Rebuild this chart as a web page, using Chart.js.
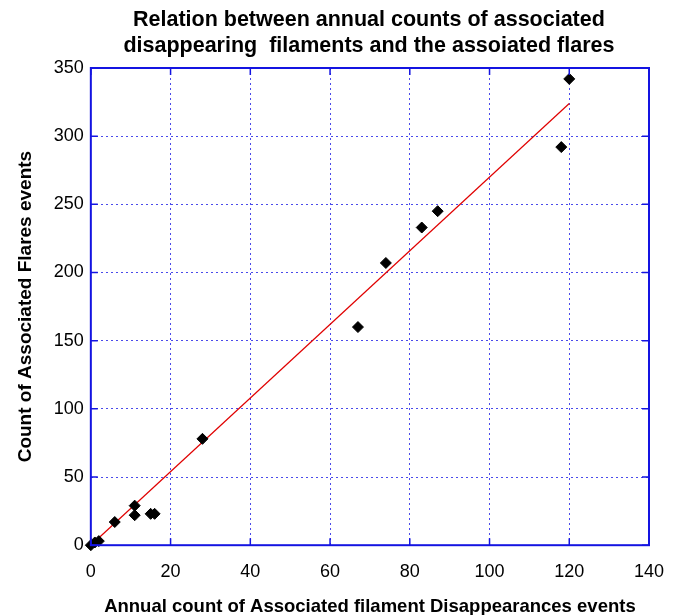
<!DOCTYPE html>
<html>
<head>
<meta charset="utf-8">
<script src="https://cdn.jsdelivr.net/npm/chart.js@4.4.1/dist/chart.umd.min.js"></script>
<style>
  body { margin: 0; background: #fff; }
</style>
</head>
<body>
<canvas id="chart" width="680" height="615"></canvas>
<script>
// annual counts (x = filament disappearances, y = flares)
const filamentCounts = [0, 1, 2, 6, 11, 11, 15, 16, 28, 67, 74, 83, 87, 118, 120];
const flareCounts    = [0, 2, 3, 17, 29, 22, 23, 23, 78, 160, 207, 233, 245, 292, 342];

// linear fit line end points
const fitX = [1.5, 120];
const fitY = [4, 324];

const xTicks = [0, 20, 40, 60, 80, 100, 120, 140];
const yTicks = [0, 50, 100, 150, 200, 250, 300, 350];

const titleLines = ['Relation between annual counts of associated', 'disappearing  filaments and the assoiated flares'];

const blue = 'rgb(20, 20, 225)';
const gridBlue = 'rgba(30, 30, 230, 0.8)';

// title centered over the plot area, plus frame and inner tick marks
const framePlugin = {
  id: 'frame',
  afterDraw(chart) {
    const ctx = chart.ctx;
    const a = chart.chartArea;
    const xs = chart.scales.x, ys = chart.scales.y;
    ctx.save();
    ctx.strokeStyle = blue;
    ctx.lineWidth = 2;
    ctx.strokeRect(a.left, a.top, a.right - a.left, a.bottom - a.top);
    ctx.lineWidth = 1.5;
    ctx.beginPath();
    xTicks.forEach(v => {
      const px = xs.getPixelForValue(v);
      ctx.moveTo(px, a.bottom); ctx.lineTo(px, a.bottom - 7);
      ctx.moveTo(px, a.top); ctx.lineTo(px, a.top + 7);
    });
    yTicks.forEach(v => {
      const py = ys.getPixelForValue(v);
      ctx.moveTo(a.left, py); ctx.lineTo(a.left + 7, py);
      ctx.moveTo(a.right, py); ctx.lineTo(a.right - 7, py);
    });
    ctx.stroke();

    ctx.fillStyle = '#000';
    ctx.font = 'bold 21.5px "Liberation Sans", Arial, sans-serif';
    ctx.textAlign = 'center';
    ctx.textBaseline = 'middle';
    const cx = (a.left + a.right) / 2 - 1;
    ctx.fillText(titleLines[0], cx, 20);
    ctx.fillText(titleLines[1], cx, 46);
    ctx.restore();
  }
};

new Chart('chart', {
  type: 'scatter',
  data: {
    datasets: [{
      label: 'Annual counts',
      data: filamentCounts.map((x, i) => ({ x: x, y: flareCounts[i] })),
      backgroundColor: '#000',
      borderColor: '#000',
      pointStyle: 'rectRot',
      pointRadius: 5.5,
      borderWidth: 1,
      clip: false
    }, {
      label: 'Linear fit',
      type: 'line',
      data: fitX.map((x, i) => ({ x: x, y: fitY[i] })),
      borderColor: '#e00000',
      borderWidth: 1.2,
      pointRadius: 0,
      fill: false
    }]
  },
  options: {
    responsive: false,
    animation: false,
    devicePixelRatio: 1,
    layout: { padding: { top: 68, right: 31, left: 14, bottom: -3 } },
    plugins: {
      legend: { display: false },
      tooltip: { enabled: false }
    },
    scales: {
      x: {
        type: 'linear',
        min: 0, max: 140,
        afterBuildTicks: s => { s.ticks = xTicks.map(v => ({ value: v })); },
        afterFit: s => { s.paddingRight = 0; },
        grid: { color: gridBlue, lineWidth: 1, drawTicks: false },
        border: { display: false, dash: [2, 3] },
        ticks: { color: '#000', font: { size: 18, family: '"Liberation Sans", Arial' }, padding: 16 },
        title: {
          display: true,
          text: 'Annual count of Associated filament Disappearances events',
          color: '#000',
          font: { size: 18.5, weight: 'bold', family: '"Liberation Sans", Arial' },
          padding: { top: -3, bottom: 0 }
        }
      },
      y: {
        type: 'linear',
        min: 0, max: 350,
        afterBuildTicks: s => { s.ticks = yTicks.map(v => ({ value: v })); },
        grid: { color: gridBlue, lineWidth: 1, drawTicks: false },
        border: { display: false, dash: [2, 3] },
        ticks: { color: '#000', font: { size: 18, family: '"Liberation Sans", Arial' }, padding: 7 },
        title: {
          display: true,
          text: 'Count of Associated Flares events',
          color: '#000',
          font: { size: 19, weight: 'bold', family: '"Liberation Sans", Arial' },
          padding: { top: 0, bottom: 10 }
        }
      }
    }
  },
  plugins: [framePlugin]
});
</script>
</body>
</html>
